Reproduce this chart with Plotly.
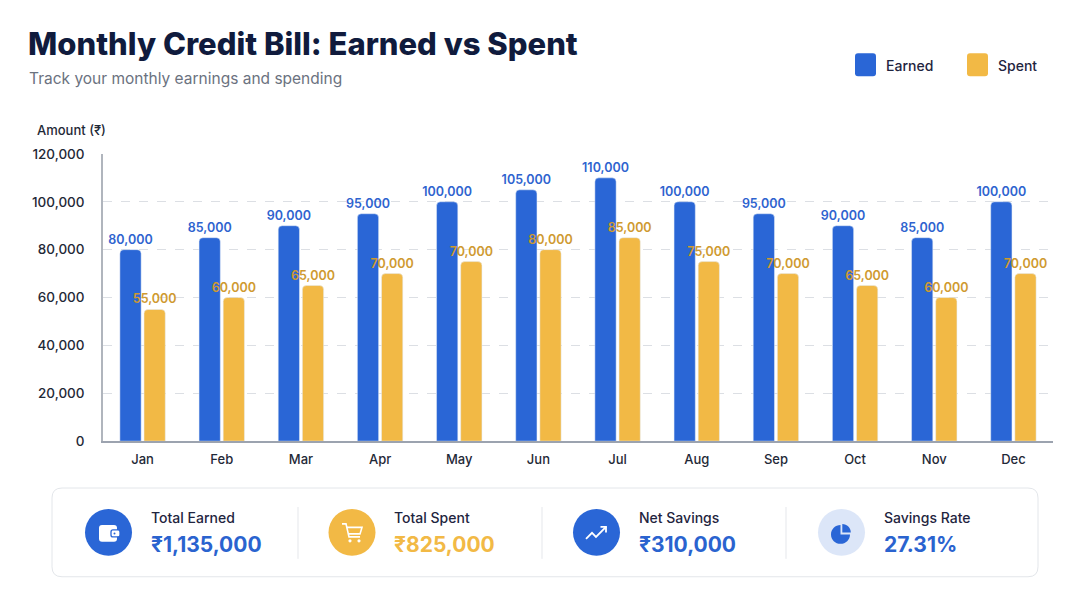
import plotly.graph_objects as go

# chart data
months = ['Jan', 'Feb', 'Mar', 'Apr', 'May', 'Jun', 'Jul', 'Aug', 'Sep', 'Oct', 'Nov', 'Dec']
earned = [80000, 85000, 90000, 95000, 100000, 105000, 110000, 100000, 95000, 90000, 85000, 100000]
spent = [55000, 60000, 65000, 70000, 75000, 80000, 85000, 75000, 70000, 65000, 60000, 70000]
# labels as printed on the chart (May label reads 70,000)
spent_labels = ['55,000', '60,000', '65,000', '70,000', '70,000', '80,000',
                '85,000', '75,000', '70,000', '65,000', '60,000', '70,000']
y_ticks = [0, 20000, 40000, 60000, 80000, 100000, 120000]

# summary cards
card_titles = ['Total Earned', 'Total Spent', 'Net Savings', 'Savings Rate']
card_values = ['₹1,135,000', '₹825,000', '₹310,000', '27.31%']

BLUE = '#2a66d6'
GOLD = '#f2b945'
NAVY = '#101b3d'
FONT = 'Inter'

# page body margin shifts the figure; vertical placement tuned from a test render
OFF_X = 8
W, H = 1080 - 2 * OFF_X, 600


def X(px):
    return (px - OFF_X) / W


def Y(py):
    return 1 - ((py - 14.7) / 0.976) / H


def rr(x0, y0, x1, y1, r):
    # rounded rectangle path in paper coords from pixel box
    p = [
        f"M {X(x0 + r)},{Y(y0)}", f"L {X(x1 - r)},{Y(y0)}",
        f"Q {X(x1)},{Y(y0)} {X(x1)},{Y(y0 + r)}", f"L {X(x1)},{Y(y1 - r)}",
        f"Q {X(x1)},{Y(y1)} {X(x1 - r)},{Y(y1)}", f"L {X(x0 + r)},{Y(y1)}",
        f"Q {X(x0)},{Y(y1)} {X(x0)},{Y(y1 - r)}", f"L {X(x0)},{Y(y0 + r)}",
        f"Q {X(x0)},{Y(y0)} {X(x0 + r)},{Y(y0)}", "Z",
    ]
    return ' '.join(p)


def pline(pts):
    return 'M ' + ' L '.join(f"{X(a)},{Y(b)}" for a, b in pts)


fig = go.Figure()
fig.add_trace(go.Bar(x=months, y=earned, name='Earned', marker=dict(color=BLUE, cornerradius=4),
                     text=[f"{v:,}" for v in earned], textposition='outside', textangle=0,
                     constraintext='none', cliponaxis=False,
                     textfont=dict(family=FONT, size=12.5, color='#2e63cf', weight=600)))
fig.add_trace(go.Bar(x=months, y=spent, name='Spent', marker=dict(color=GOLD, cornerradius=4),
                     text=spent_labels, textposition='outside', textangle=0,
                     constraintext='none', cliponaxis=False,
                     textfont=dict(family=FONT, size=12.5, color='#cf9a30', weight=600)))

shapes = []
annotations = []

# title block
annotations.append(dict(x=X(26), y=Y(42), xref='paper', yref='paper', xanchor='left', yanchor='middle',
                        text='Monthly Credit Bill: Earned vs Spent', showarrow=False,
                        font=dict(family=FONT, size=31, color=NAVY, weight=800)))
annotations.append(dict(x=X(27), y=Y(77), xref='paper', yref='paper', xanchor='left', yanchor='middle',
                        text='Track your monthly earnings and spending', showarrow=False,
                        font=dict(family=FONT, size=15.5, color='#6b7280')))

# legend
for sx, col, name in [(855, BLUE, 'Earned'), (967, GOLD, 'Spent')]:
    shapes.append(dict(type='path', xref='paper', yref='paper', path=rr(sx, 52, sx + 21, 75, 3),
                       fillcolor=col, line=dict(width=0)))
    annotations.append(dict(x=X(sx + 29), y=Y(64), xref='paper', yref='paper', xanchor='left',
                            yanchor='middle', text=name, showarrow=False,
                            font=dict(family=FONT, size=14, color='#1f2540', weight=500)))

# axis title
annotations.append(dict(x=X(35), y=Y(129), xref='paper', yref='paper', xanchor='left', yanchor='middle',
                        text='Amount (₹)', showarrow=False,
                        font=dict(family=FONT, size=13, color='#1f2937', weight=500)))

# summary card
shapes.append(dict(type='path', xref='paper', yref='paper', path=rr(52, 488, 1038, 577, 10),
                   fillcolor='white', line=dict(color='#e3e6ea', width=1)))
for dx in [298, 542, 786]:
    shapes.append(dict(type='line', xref='paper', yref='paper', x0=X(dx), x1=X(dx), y0=Y(507), y1=Y(559),
                       line=dict(color='#e5e7eb', width=1)))

centers = [108.5, 352, 596.5, 841.5]
icon_fill = [BLUE, GOLD, BLUE, '#dce6f8']
value_col = ['#2a63cf', GOLD, '#2a63cf', '#2a63cf']
cy = 532.5
for i, cx in enumerate(centers):
    shapes.append(dict(type='circle', xref='paper', yref='paper', x0=X(cx - 23.5), x1=X(cx + 23.5),
                       y0=Y(cy - 23.5), y1=Y(cy + 23.5), fillcolor=icon_fill[i], line=dict(width=0)))
    annotations.append(dict(x=X(cx + 40), y=Y(518), xref='paper', yref='paper', xanchor='left',
                            yanchor='middle', text=card_titles[i], showarrow=False,
                            font=dict(family=FONT, size=14, color='#1f2540', weight=500)))
    annotations.append(dict(x=X(cx + 40), y=Y(545), xref='paper', yref='paper', xanchor='left',
                            yanchor='middle', text=card_values[i], showarrow=False,
                            font=dict(family=FONT, size=21, color=value_col[i], weight=700)))

# wallet icon
shapes.append(dict(type='path', xref='paper', yref='paper', path=rr(99, 525, 117, 542, 3),
                   fillcolor='white', line=dict(width=0)))
shapes.append(dict(type='path', xref='paper', yref='paper', path=rr(111, 530, 120, 537, 2),
                   fillcolor='white', line=dict(color=BLUE, width=1.3)))
shapes.append(dict(type='circle', xref='paper', yref='paper', x0=X(113.5), x1=X(115.5), y0=Y(532.5), y1=Y(534.5),
                   fillcolor=BLUE, line=dict(width=0)))

# cart icon
shapes.append(dict(type='path', xref='paper', yref='paper',
                   path=pline([(342, 524), (346, 524), (349, 537), (360, 537)]),
                   line=dict(color='white', width=1.6)))
shapes.append(dict(type='path', xref='paper', yref='paper',
                   path=pline([(346.5, 527.5), (362, 527.5), (360, 534), (348.5, 534)]),
                   line=dict(color='white', width=1.6)))
for wx in [350, 359]:
    shapes.append(dict(type='circle', xref='paper', yref='paper', x0=X(wx - 1.6), x1=X(wx + 1.6),
                       y0=Y(541 - 1.6), y1=Y(541 + 1.6), fillcolor='white', line=dict(width=0)))

# trending icon
shapes.append(dict(type='path', xref='paper', yref='paper',
                   path=pline([(586, 539), (592, 533), (596, 537), (606, 527)]),
                   line=dict(color='white', width=1.8)))
shapes.append(dict(type='path', xref='paper', yref='paper',
                   path=pline([(600.5, 527), (606, 527), (606, 532.5)]),
                   line=dict(color='white', width=1.8)))

# pie icon
pcx, pcy, r = 840.5, 534.5, 9.5
k = 0.5523 * r
pie = (f"M {X(pcx)},{Y(pcy)} L {X(pcx)},{Y(pcy - r)} "
       f"C {X(pcx - k)},{Y(pcy - r)} {X(pcx - r)},{Y(pcy - k)} {X(pcx - r)},{Y(pcy)} "
       f"C {X(pcx - r)},{Y(pcy + k)} {X(pcx - k)},{Y(pcy + r)} {X(pcx)},{Y(pcy + r)} "
       f"C {X(pcx + k)},{Y(pcy + r)} {X(pcx + r)},{Y(pcy + k)} {X(pcx + r)},{Y(pcy)} Z")
shapes.append(dict(type='path', xref='paper', yref='paper', path=pie, fillcolor=BLUE, line=dict(width=0)))
ox, oy, r2 = pcx + 1.8, pcy - 1.8, 8.5
k2 = 0.5523 * r2
wedge = (f"M {X(ox)},{Y(oy)} L {X(ox)},{Y(oy - r2)} "
         f"C {X(ox + k2)},{Y(oy - r2)} {X(ox + r2)},{Y(oy - k2)} {X(ox + r2)},{Y(oy)} Z")
shapes.append(dict(type='path', xref='paper', yref='paper', path=wedge, fillcolor=BLUE, line=dict(width=0)))

fig.update_layout(
    width=W, height=H,
    margin=dict(l=0, r=0, t=0, b=0),
    paper_bgcolor='white', plot_bgcolor='white',
    showlegend=False,
    barmode='group', bargap=0.39, bargroupgap=0.12,
    font=dict(family=FONT, color='#1f2937'),
    shapes=shapes, annotations=annotations,
    xaxis=dict(domain=[X(103), X(1053)], showline=True, linecolor='#9ca3af', linewidth=1.5,
               ticks='', ticklabelstandoff=6, tickfont=dict(size=13, color='#1f2937', weight=500),
               showgrid=False, fixedrange=True),
    yaxis=dict(domain=[Y(441), Y(153)], range=[0, 120000], tickvals=y_ticks, tickformat=',',
               showline=True, linecolor='#b0b5bd', linewidth=1.5, ticks='', ticklabelstandoff=14,
               tickfont=dict(size=13.5, color='#1f2937', weight=500), showgrid=True,
               gridcolor='#dcdfe4', griddash='dash', zeroline=False, fixedrange=True),
)

fig.write_html("out.html")
